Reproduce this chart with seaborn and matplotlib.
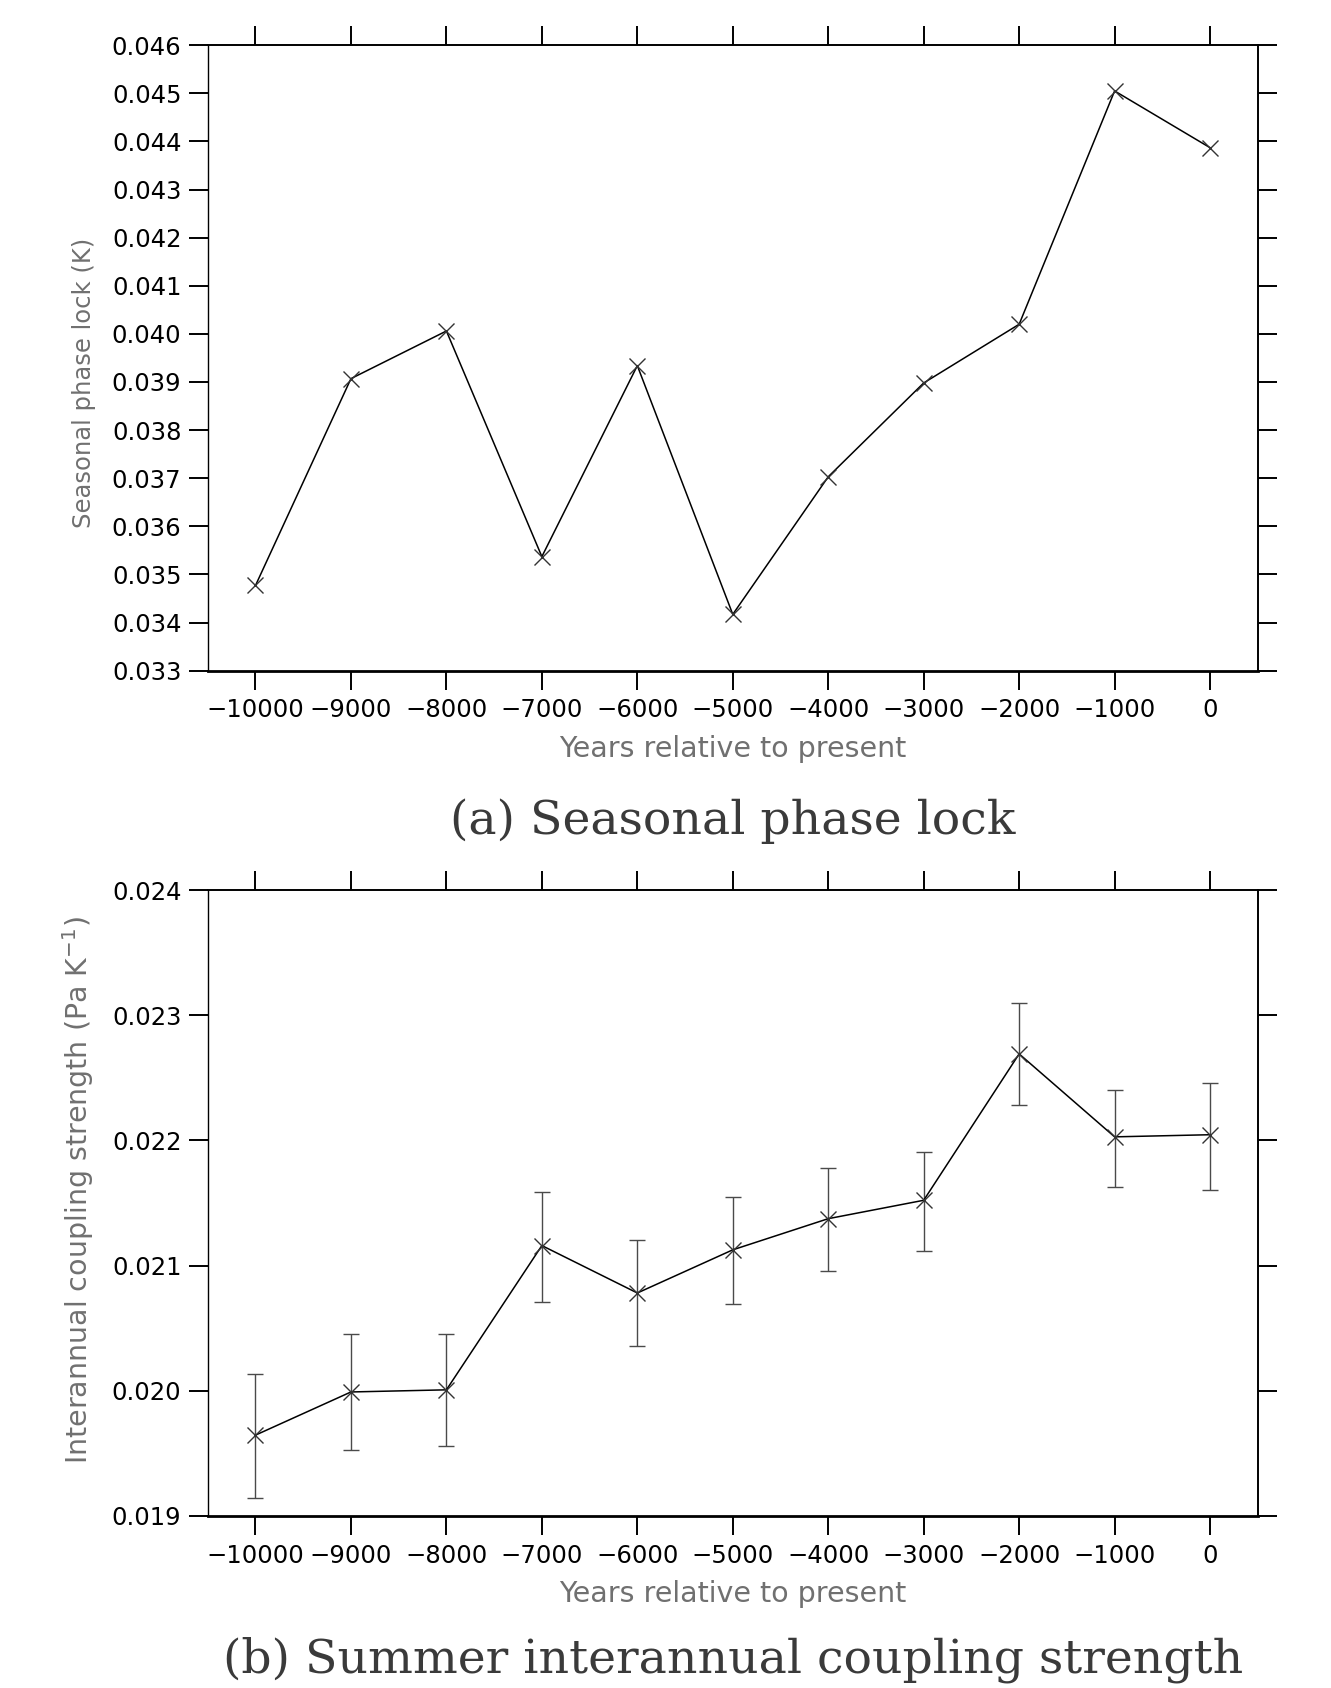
import numpy as np
import pandas as pd
import matplotlib
matplotlib.use("Agg")
import matplotlib.pyplot as plt
import seaborn as sns

# ---- data ----
years = [-10000, -9000, -8000, -7000, -6000, -5000, -4000, -3000, -2000, -1000, 0]
phase_lock = [0.03477, 0.03907, 0.04006, 0.03537, 0.03934, 0.03417, 0.03703,
              0.03898, 0.04020, 0.04505, 0.04387]
coupling = [0.019645, 0.01999, 0.020007, 0.02116, 0.020781, 0.021126, 0.021375,
            0.021522, 0.022692, 0.022029, 0.022046]
coupling_upper = [0.020136, 0.02045, 0.02045, 0.02159, 0.021203, 0.021547, 0.02178,
                  0.021909, 0.023096, 0.02240, 0.02246]
coupling_lower = [0.019146, 0.01953, 0.01956, 0.020713, 0.02036, 0.020695, 0.02096,
                  0.021117, 0.022287, 0.021625, 0.021608]

xticks = [-10000, -9000, -8000, -7000, -6000, -5000, -4000, -3000, -2000, -1000, 0]
yticks_a = [0.033, 0.034, 0.035, 0.036, 0.037, 0.038, 0.039, 0.040, 0.041, 0.042,
            0.043, 0.044, 0.045, 0.046]
yticks_b = [0.019, 0.020, 0.021, 0.022, 0.023, 0.024]

sns.set_theme(style="white")
plt.rcParams['font.family'] = ['DejaVu Sans']
plt.rcParams['axes.unicode_minus'] = True

W, H = 1331, 1688
fig = plt.figure(figsize=(W / 100, H / 100), dpi=100)
fig.patch.set_facecolor('white')

LEFT = 0.1561
WIDTH = 0.945 - 0.1561
ax1 = fig.add_axes([LEFT, 0.6027, WIDTH, 0.9732 - 0.6027])
ax2 = fig.add_axes([LEFT, 0.102, WIDTH, 0.4726 - 0.102])

df_a = pd.DataFrame({'year': years, 'val': phase_lock})
df_b = pd.DataFrame({'year': years, 'val': coupling})

label_color = '#707070'


def style_axis(ax, yticks, ylabel, fmt, ylabel_size):
    ax.set_facecolor('white')
    ax.set_xlim(-10500, 500)
    ax.set_ylim(yticks[0], yticks[-1])
    ax.set_xticks(xticks)
    ax.set_yticks(yticks)
    ax.set_xticklabels([str(t).replace('-', '\u2212') for t in xticks])
    ax.set_yticklabels([fmt.format(t) for t in yticks])
    ax.tick_params(axis='both', which='major', direction='out', length=14, width=1.4,
                   color='black', labelsize=17.5, labelcolor='black',
                   top=True, right=True, bottom=True, left=True,
                   labeltop=False, labelright=False)
    ax.tick_params(axis='x', pad=6)
    ax.tick_params(axis='y', pad=5)
    for side, lw in [('left', 1.0), ('bottom', 2.0), ('top', 1.4), ('right', 1.4)]:
        ax.spines[side].set_visible(True)
        ax.spines[side].set_color('black')
        ax.spines[side].set_linewidth(lw)
    ax.grid(False)
    ax.set_xlabel('Years relative to present', fontsize=20.5, color=label_color, labelpad=9)
    ax.set_ylabel(ylabel, fontsize=ylabel_size, color=label_color)


# panel (a)
sns.lineplot(data=df_a, x='year', y='val', ax=ax1, color='black', linewidth=1.1,
             marker='x', markersize=11, markeredgewidth=1.0, markeredgecolor='#333333')
style_axis(ax1, yticks_a, 'Seasonal phase lock (K)', '{:.3f}', 17.5)
ax1.yaxis.set_label_coords(-0.106, 0.46)

# panel (b)
yerr = [np.array(coupling) - np.array(coupling_lower),
        np.array(coupling_upper) - np.array(coupling)]
ax2.errorbar(years, coupling, yerr=yerr, fmt='none', ecolor='#4a4a4a',
             elinewidth=1.0, capsize=6, capthick=1.0, zorder=1)
sns.lineplot(data=df_b, x='year', y='val', ax=ax2, color='black', linewidth=1.1,
             marker='x', markersize=11, markeredgewidth=1.0, markeredgecolor='#333333',
             zorder=3)
style_axis(ax2, yticks_b, 'Interannual coupling strength (Pa K$^{-1}$)', '{:.3f}', 20.5)
ax2.yaxis.set_label_coords(-0.106, 0.52)

# panel titles
cx = LEFT + WIDTH / 2
fig.text(cx, 0.5134, '(a) Seasonal phase lock', ha='center', va='center',
         family='DejaVu Serif', fontsize=34, color='#3a3a3a')
fig.text(cx, 0.0166, '(b) Summer interannual coupling strength', ha='center', va='center',
         family='DejaVu Serif', fontsize=34, color='#3a3a3a')

fig.savefig('out.png', dpi=100, facecolor='white')
